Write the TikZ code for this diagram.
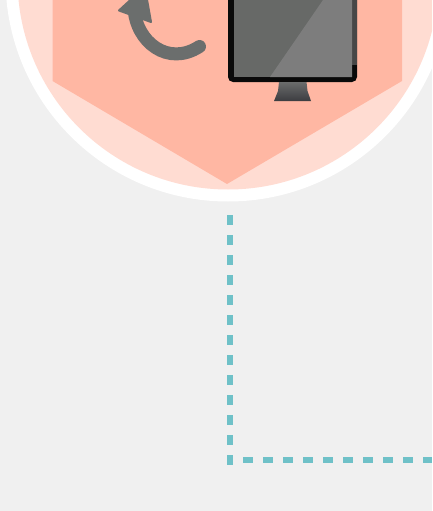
\documentclass[tikz,border=0pt]{standalone}
\usepackage{xcolor}
\usetikzlibrary{arrows.meta, positioning}
\definecolor{pagegray}{HTML}{F0F0F0}
\definecolor{paleorange}{HTML}{FFDCD2}
\definecolor{salmon}{HTML}{FFB7A3}
\definecolor{arrowgray}{HTML}{6B6E6D}
\definecolor{screendark}{HTML}{676967}
\definecolor{screenlight}{HTML}{7D7D7D}
\definecolor{edgegray}{HTML}{474747}
\definecolor{framedark}{HTML}{0A0A0A}
\definecolor{standtop}{HTML}{6A6C6C}
\definecolor{standbase}{HTML}{3C3C40}
\definecolor{dotteal}{HTML}{6FC1C8}
\begin{document}
\begin{tikzpicture}[
      x=1pt, y=-1pt,
      dots/.style={draw=dotteal, line width=6.5pt, dash pattern=on 10pt off 10pt},
      turn/.style={draw=arrowgray, line width=13pt, line cap=round},
      turnhead/.style={fill=arrowgray, draw=arrowgray, line width=2pt, line join=round}
    ]
    \useasboundingbox (0,0) rectangle (432,511);
    \clip (0,0) rectangle (432,511);
    \fill[pagegray] (0,0) rectangle (432,511);

    % badge
    \fill[white] (228,-21) circle (222.5);
    \fill[paleorange] (228,-21) circle (210.5);
    \fill[salmon] (52.5,-10) -- (52.5,81) -- (227,184) -- (402,81) -- (402,-10) -- cycle;

    % turn arrow
    \coordinate (tail) at (199.5,46.5);
    \coordinate (neck) at (134,8);
    \draw[turn] (neck) .. controls (136,42) and (168,67) .. (tail);
    \fill[turnhead] (119,10.5) -- (137,-6) -- (146,-6) -- (151,22) -- cycle;

    % monitor
    \fill[framedark, rounded corners=5pt] (228,-12) rectangle (357,82);
    \fill[edgegray] (352,-12) rectangle (357,65);
    \fill[screendark] (234,-12) rectangle (352,77);
    \fill[screenlight] (270,77) -- (323,0) -- (352,0) -- (352,77) -- cycle;
    \shade[top color=standtop, bottom color=standbase]
      (279,82) -- (306.5,82) -- (307.5,91) -- (311,101) -- (274,101) -- (278,91) -- cycle;

    % dotted link
    \coordinate (down) at (230,215);
    \coordinate (corner) at (230,465);
    \coordinate (start) at (243,460);
    \coordinate (away) at (432,460);
    \draw[dots] (down) -- (corner);
    \draw[dots] (start) -- (away);
  \end{tikzpicture}
\end{document}
